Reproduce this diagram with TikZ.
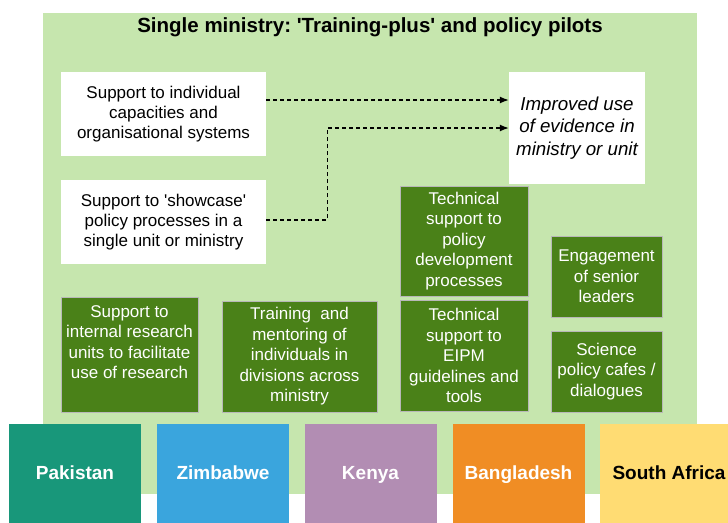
\documentclass[tikz,border=0pt]{standalone}
\usepackage{fontspec}
\setmainfont{Liberation Sans}
\usetikzlibrary{arrows.meta}
\frenchspacing
\definecolor{bglight}{HTML}{C6E6AE}
\definecolor{dgreen}{HTML}{4A8118}
\definecolor{boxedge}{HTML}{B8B8B8}
\definecolor{cteal}{HTML}{18977A}
\definecolor{cblue}{HTML}{3AA5DD}
\definecolor{cpurple}{HTML}{B28DB3}
\definecolor{corange}{HTML}{F08D24}
\definecolor{cyellow}{HTML}{FFDC73}
\newcommand{\sq}{\textquotesingle}
\tikzset{
  wbox/.style={fill=white, inner sep=0pt, align=center, font=\fontsize{17}{20}\selectfont},
  gbox/.style={fill=dgreen, draw=boxedge, line width=1pt, inner sep=0pt, align=center, text=white, font=\fontsize{17}{20.5}\selectfont},
  cbox/.style={inner sep=0pt, minimum width=132pt, minimum height=100pt, text height=14pt, text depth=4pt, font=\fontsize{19}{22}\selectfont\bfseries, text=white},
  arr/.style={dashed, dash pattern=on 4pt off 3pt, line width=1.3pt, -{Latex[length=9pt,width=7pt]}}
}
\begin{document}
\begin{tikzpicture}[x=1pt,y=-1pt]
\useasboundingbox (0,0) rectangle (728,522);
\fill[bglight] (43,13) rectangle (697,494);
\node[font=\fontsize{20.5}{24}\selectfont\bfseries] (title) at (370,27) {Single ministry: \sq Training-plus\sq{} and policy pilots};
\node[wbox, minimum width=205pt, minimum height=84pt] (b1) at (163.5,114) {Support to individual\\capacities and\\organisational systems};
\node[wbox, minimum width=205pt, minimum height=84pt] (b2) at (163.5,222) {Support to \sq showcase\sq\\policy processes in a\\single unit or ministry};
\node[wbox, minimum width=136pt, minimum height=112pt, font=\fontsize{18.7}{22.5}\selectfont\itshape] (t) at (577,128) {Improved use\\of evidence in\\ministry or unit};
\draw[arr] ([yshift=14pt]b1.east) -- ([yshift=28pt]t.west);
\draw[arr] ([yshift=2pt]b2.east) -- ++(61,0) |- (t.west);
\node[gbox, minimum width=128pt, minimum height=110pt] (tp) at (464,241) {Technical\\support to\\policy\\development\\processes};
\node[gbox, minimum width=128pt, minimum height=111pt] (te) at (464,355.5) {Technical\\support to\\EIPM\\guidelines and\\tools};
\node[gbox, minimum width=111pt, minimum height=81pt] (en) at (606.5,276.5) {Engagement\\of senior\\leaders};
\node[gbox, minimum width=111pt, minimum height=81pt] (sc) at (606.5,371.5) {Science\\policy cafes /\\dialogues};
\node[gbox, minimum width=137pt, minimum height=115pt, text depth=25pt] (ir) at (129.5,354.5) {Support to\\internal research\\units to facilitate\\use of research};
\node[gbox, minimum width=155pt, minimum height=111pt] (tr) at (299.5,356.5) {Training\ \ and\\mentoring of\\individuals in\\divisions across\\ministry};
\node[cbox, fill=cteal] (pk) at (75,474) {Pakistan};
\node[cbox, fill=cblue] (zw) at (223,474) {Zimbabwe};
\node[cbox, fill=cpurple] (ke) at (370.5,474) {Kenya};
\node[cbox, fill=corange] (bd) at (518.5,474) {Bangladesh};
\node[cbox, fill=cyellow, text=black, minimum width=138pt] (sa) at (669,474) {South Africa};
\end{tikzpicture}
\end{document}
